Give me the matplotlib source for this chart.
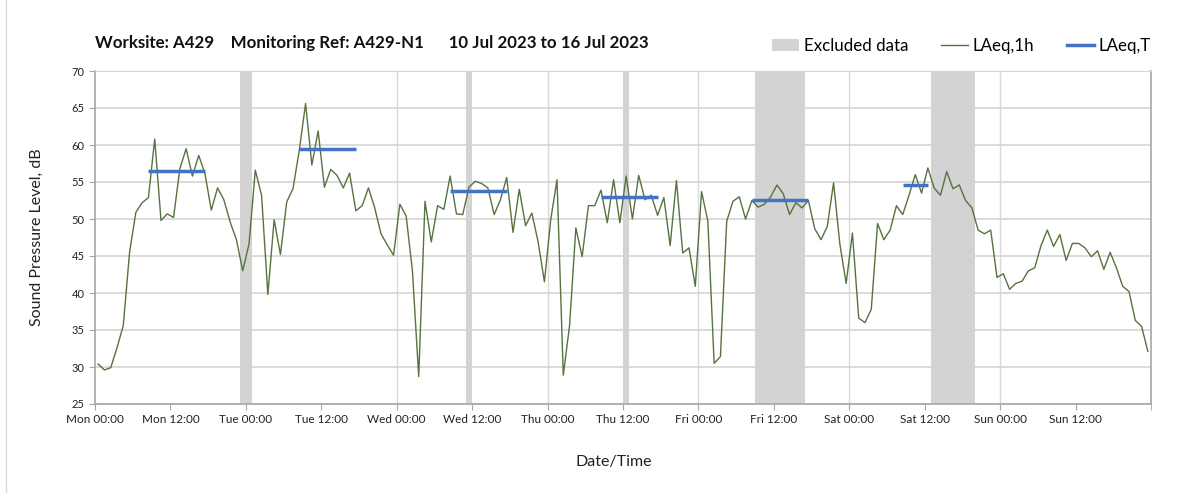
import numpy as np
import matplotlib.pyplot as plt
from matplotlib.patches import Patch
from matplotlib.lines import Line2D

# hourly LAeq,1h values, Mon 00:00 - Sun 23:00 (plotted at mid-hour)
laeq_1h = [
    30.4, 29.6, 29.9, 32.6, 35.6, 45.5, 50.9, 52.2, 52.9, 60.8,
    49.8, 50.7, 50.2, 56.8, 59.5, 55.8, 58.6, 56.1, 51.2, 54.2,
    52.6, 49.6, 47.2, 43.0, 46.6, 56.6, 53.2, 39.8, 49.9, 45.2,
    52.3, 54.1, 59.3, 65.6, 57.3, 61.9, 54.3, 56.7, 55.9, 54.2,
    56.2, 51.1, 51.8, 54.2, 51.5, 48.0, 46.5, 45.1, 52.0, 50.4,
    43.0, 28.7, 52.4, 46.9, 51.8, 51.3, 55.8, 50.7, 50.6, 54.3,
    55.1, 54.8, 54.2, 50.6, 52.6, 55.6, 48.2, 54.0, 49.1, 50.8,
    46.9, 41.5, 49.9, 55.3, 28.9, 35.6, 48.8, 44.9, 51.8, 51.8,
    53.9, 49.5, 55.3, 49.5, 55.8, 50.0, 55.9, 52.6, 53.2, 50.5,
    52.9, 46.4, 55.2, 45.4, 46.1, 40.9, 53.7, 49.7, 30.5, 31.4,
    49.7, 52.4, 53.0, 50.0, 52.5, 51.6, 52.0, 53.0, 54.6, 53.4,
    50.6, 52.2, 51.5, 52.5, 48.7, 47.2, 49.0, 54.9, 46.6, 41.3,
    48.1, 36.6, 36.0, 37.8, 49.4, 47.2, 48.5, 51.8, 50.6, 53.2,
    56.0, 53.5, 56.9, 54.2, 53.2, 56.4, 54.1, 54.6, 52.5, 51.5,
    48.5, 48.0, 48.5, 42.1, 42.6, 40.5, 41.3, 41.6, 43.0, 43.4,
    46.4, 48.5, 46.3, 47.9, 44.4, 46.7, 46.7, 46.1, 44.9, 45.7,
    43.2, 45.5, 43.4, 40.9, 40.2, 36.3, 35.5, 32.1,
]

# excluded periods (hours from Mon 00:00)
excluded_start = [23, 59, 84, 105, 133]
excluded_end = [25, 60, 85, 113, 140]

# LAeq,T periods
laeqT_start = [8.5, 32.5, 56.5, 80.5, 104.5, 128.5]
laeqT_end = [17.5, 41.5, 65.5, 89.5, 113.5, 132.5]
laeqT_value = [56.5, 59.4, 53.8, 53.0, 52.6, 54.6]

tick_labels = ['Mon 00:00', 'Mon 12:00', 'Tue 00:00', 'Tue 12:00', 'Wed 00:00',
               'Wed 12:00', 'Thu 00:00', 'Thu 12:00', 'Fri 00:00', 'Fri 12:00',
               'Sat 00:00', 'Sat 12:00', 'Sun 00:00', 'Sun 12:00']

plt.rcParams['font.family'] = ['Lato', 'DejaVu Sans']

fig = plt.figure(figsize=(12.03, 4.93), dpi=100)
ax = fig.add_axes([95 / 1203, 1 - 404 / 493, 1056 / 1203, 333 / 493])

hours = np.arange(len(laeq_1h)) + 0.5

for s, e in zip(excluded_start, excluded_end):
    ax.axvspan(s, e, color='#d3d3d3', lw=0, zorder=1)

ax.plot(hours, laeq_1h, color='#56733f', lw=1.0, zorder=3)

for s, e, v in zip(laeqT_start, laeqT_end, laeqT_value):
    ax.plot([s, e], [v, v], color='#4472c4', lw=2.5, solid_capstyle='butt', zorder=4)

ax.set_xlim(0, 168)
ax.set_ylim(25, 70)
ax.set_yticks(np.arange(25, 71, 5))
ax.set_xticks(np.arange(0, 168, 12))
ax.set_xticks([168], minor=True)
ax.set_xticklabels(tick_labels)

ax.set_axisbelow(True)
ax.grid(axis='y', color='#d4d4d4', lw=1.2, zorder=0)
for d in range(24, 168, 24):
    ax.axvline(d, color='#d9d9d9', lw=1.0, zorder=0)

for side in ['left', 'bottom', 'right']:
    ax.spines[side].set_color('#a6a6a6')
    ax.spines[side].set_linewidth(1.2)
ax.spines['top'].set_color('#d4d4d4')
ax.tick_params(axis='both', which='both', colors='#a6a6a6', length=4, labelsize=8.5,
               labelcolor='#222222')
ax.tick_params(axis='y', labelsize=8)
ax.tick_params(axis='x', pad=3)

ax.set_ylabel('Sound Pressure Level, dB', fontsize=11.5, color='#222222', labelpad=20)
ax.set_xlabel('Date/Time', fontsize=11.5, color='#222222', labelpad=22)
ax.xaxis.label.set_x(0.491)

fig.text(95 / 1203, 1 - 43 / 493,
         'Worksite: A429    Monitoring Ref: A429-N1      10 Jul 2023 to 16 Jul 2023',
         fontsize=12.2, fontweight='bold', va='center', ha='left', color='#111111')

handles = [Patch(facecolor='#d3d3d3', edgecolor='none'),
           Line2D([], [], color='#56733f', lw=1.0),
           Line2D([], [], color='#4472c4', lw=2.5)]
fig.legend(handles, ['Excluded data', 'LAeq,1h', 'LAeq,T'], loc='center right',
           bbox_to_anchor=(1166 / 1203, 1 - 46 / 493), ncol=3, frameon=False,
           fontsize=12.2, handlelength=1.6, columnspacing=1.95, handletextpad=0.25)

fig.add_artist(Line2D([5.5 / 1203, 5.5 / 1203], [0, 1], color='#d9d9d9', lw=1.0,
                      transform=fig.transFigure))

fig.savefig('out.png', dpi=100, facecolor='white')
